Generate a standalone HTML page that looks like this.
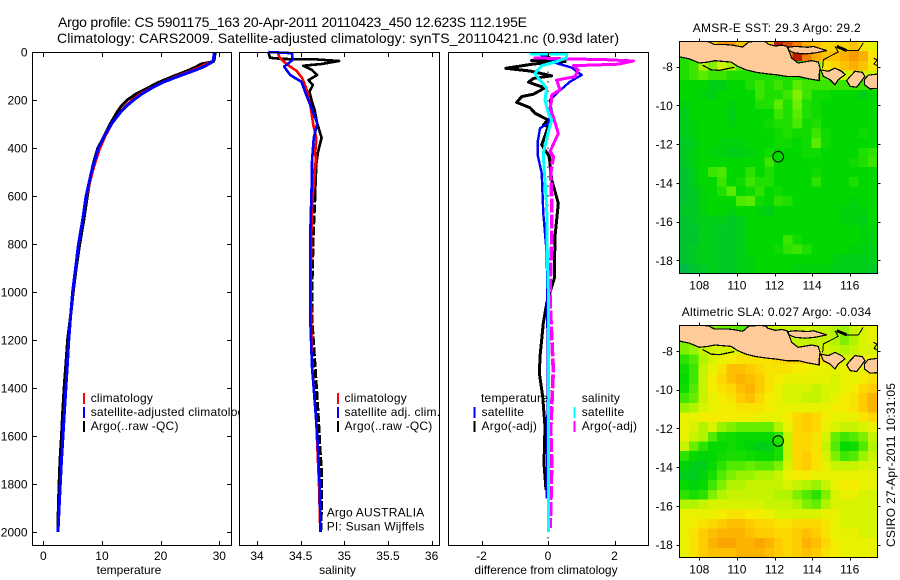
<!DOCTYPE html>
<html lang="en">
<head>
<meta charset="utf-8">
<title>Argo profile chart</title>
<style>
html,body{margin:0;padding:0;background:#fff;}
svg{display:block;font-family:"Liberation Sans",sans-serif;font-size:12px;fill:#000;}
.lg{letter-spacing:.22px;}
</style>
</head>
<body>
<svg id="chart" xmlns="http://www.w3.org/2000/svg" width="900" height="580" viewBox="0 0 900 580">
<defs>
<clipPath id="clip-sst"><rect x="679.5" y="41.5" width="198" height="232"/></clipPath>
<clipPath id="clip-sla"><rect x="679.5" y="325.5" width="198" height="232"/></clipPath>
</defs>
<rect width="900" height="580" fill="#fff"/>
<text x="58" y="27" font-size="14" textLength="469" lengthAdjust="spacing">Argo profile: CS 5901175_163 20-Apr-2011 20110423_450 12.623S 112.195E</text>
<text x="57" y="43" font-size="14" textLength="562" lengthAdjust="spacing">Climatology: CARS2009. Satellite-adjusted climatology: synTS_20110421.nc (0.93d later)</text>
<g id="p1"></g>
<g id="p2"></g>
<g id="p3"></g>
<g id="m1"></g>
<g id="m2"></g>
<text x="692.7" y="32" textLength="168" lengthAdjust="spacing">AMSR-E SST: 29.3 Argo: 29.2</text>
<text x="681.7" y="316" textLength="189.5" lengthAdjust="spacing">Altimetric SLA: 0.027 Argo: -0.034</text>
<text transform="translate(895,547) rotate(-90)" textLength="164" lengthAdjust="spacing">CSIRO 27-Apr-2011 10:31:05</text>
</svg>
<script>
/* ---------- shared depth axis ---------- */
const depthTicks = [0,200,400,600,800,1000,1200,1400,1600,1800,2000];

/* ---------- temperature panel data ---------- */
const tempTicks = [0,10,20,30];
const tempDepthLevels = [0,10,20,30,40,50,60,75,100,125,150,175,200,225,250,300,350,400,450,500,600,700,800,900,1000,1100,1200,1300,1400,1500,1600,1700,1800,1900,2000];
const tempArgo = [29.3,29.25,29.2,29.15,29.0,26.9,26.2,24.9,22.3,19.8,17.8,15.8,14.3,13.3,12.6,11.4,10.4,9.3,8.7,8.2,7.5,6.9,6.2,5.6,5.1,4.65,4.15,3.85,3.55,3.3,3.1,2.85,2.7,2.55,2.5];
const tempClim = [29.1,29.1,29.05,29.0,28.8,27.7,26.9,25.5,22.8,20.3,18.3,16.5,15.1,14.0,13.1,11.7,10.6,9.7,9.0,8.4,7.4,6.7,6.0,5.5,5.0,4.65,4.35,4.1,3.85,3.6,3.35,3.1,2.9,2.7,2.5];
const tempSat = [29.1,29.1,29.05,29.0,28.9,28.2,27.5,26.0,23.2,20.5,18.5,16.8,15.4,14.2,13.2,11.6,10.4,9.4,8.8,8.2,7.3,6.7,6.0,5.5,5.0,4.65,4.35,4.1,3.85,3.6,3.35,3.1,2.9,2.7,2.5];

/* ---------- salinity panel data ---------- */
const salTicks = [34,34.5,35,35.5,36];
const salTickLabels = ['34','34.5','35','35.5','36'];
const salArgoDepth = [0,24,29,31,37.5,50,57,75,96,117,138,165,207,241,297,357,415,464,589,755,978,1117,1311,1505,1645,1755,1880,2000];
const salArgo = [34.13,34.15,34.30,34.68,34.94,34.74,34.53,34.63,34.69,34.59,34.64,34.60,34.63,34.66,34.69,34.74,34.70,34.68,34.665,34.645,34.63,34.63,34.665,34.70,34.72,34.74,34.74,34.73];
const salClimDepth = [5,24,51,79,110,158,221,304,360,422,443,645,800,1000,1300,1550,1680,1800,2000];
const salClim = [34.24,34.26,34.34,34.455,34.52,34.57,34.61,34.645,34.68,34.665,34.675,34.63,34.62,34.615,34.63,34.68,34.695,34.71,34.725];
const salSatDepth = [0,5,33,61,96,124,165,221,297,360,457,505,755,978,1117,1311,1547,1658,1825,2000];
const salSat = [34.13,34.40,34.41,34.31,34.38,34.51,34.55,34.61,34.69,34.65,34.63,34.63,34.61,34.61,34.61,34.63,34.68,34.70,34.72,34.725];

/* ---------- difference panel data ---------- */
const diffTicks = [-2,0,2];
const diffTempArgoDepth = [10,29,36,40,50,68,79,99,110,126,149,176,186,210,232,255,283,304,311,387,436,533,630,770,943,1047,1130,1270,1339,1436,1561,1714,1825];
const diffTempArgo = [-0.14,0.11,-0.49,0.51,-0.44,-1.27,-0.54,0.11,-0.44,-0.59,-0.09,-0.44,-0.79,-0.94,-0.54,-0.39,0,-0.14,0.01,-0.19,0.04,0.11,0.31,0.21,0.19,-0.04,-0.14,-0.24,-0.26,-0.16,-0.09,-0.12,-0.06];
const diffTempSatDepth = [10,20,33,47,65,96,124,172,200,249,297,318,374,429,505,672,839,985,1400,1860];
const diffTempSat = [-0.24,-0.09,0.11,0.26,0.71,1.01,0.66,0.26,0.06,0.11,0.01,-0.24,-0.31,-0.31,-0.19,-0.14,-0.04,-0.02,-0.01,-0.04];
const diffSalSatDepth = [8,8,24,40,57,89,117,151,200,255,283,332,422,478,645,839,992,1500,2000];
const diffSalSat = [-0.54,0.56,0.56,0.26,-0.19,-0.39,-0.24,-0.04,-0.09,0.01,0.11,0.01,-0.14,-0.12,-0.04,-0.02,0.01,0.02,0.01];
const diffSalArgoDepth = [24,30,30.5,37.5,51,57,75,103,117,158,179,200,235,270,339,415,436,505,617,783,985,1033,1186,1325,1478,1575,1714,1908,1983];
const diffSalArgo = [-0.44,0.76,1.51,2.57,2.11,0.76,0.91,0.81,0.26,0.36,0.11,0.11,0.06,0.16,0.31,0.06,0.16,0.08,0.11,0.11,0.06,0.06,0.11,0.16,0.11,0.08,0.11,0.08,0.06];

/* ---------- map data (0.5 degree cells, north to south) ---------- */
const lonTicks = [108,110,112,114,116];
const latTicks = [-8,-10,-12,-14,-16,-18];
const argoLon = 112.195;
const argoLat = -12.623;
const sstRow00 = [29.3,29.3,29.5,30.2,30.4,30.4,30.2,30.1,30.0,30.1,30.9,30.7,30.5,30.3,30.2,30.1,30.1,30.1,30.2,30.0,29.9];
const sstRow01 = [29.3,29.3,29.5,30.0,30.0,30.0,30.0,30.0,30.0,30.0,30.3,30.4,30.9,30.5,30.3,30.2,30.2,30.3,30.4,30.3,30.0];
const sstRow02 = [29.3,29.4,29.7,29.6,29.8,29.7,29.5,29.3,29.3,29.3,29.3,29.3,29.3,29.3,29.6,30.0,30.1,30.2,30.3,30.2,30.0];
const sstRow03 = [29.3,29.4,29.5,29.4,29.4,29.3,29.3,29.3,29.3,29.3,29.3,29.3,29.3,29.3,29.5,29.5,29.7,29.8,29.9,29.85,29.8];
const sstRow04 = [29.2,29.2,29.2,29.1,29.1,29.2,29.2,29.3,29.4,29.3,29.4,29.3,29.5,29.4,29.4,29.4,29.4,29.4,29.4,29.4,29.4];
const sstRow05 = [29.2,29.2,29.15,29.1,29.2,29.2,29.2,29.2,29.4,29.3,29.3,29.4,29.6,29.4,29.25,29.25,29.2,29.2,29.2,29.1,29.2];
const sstRow06 = [29.15,29.2,29.2,29.2,29.2,29.15,29.2,29.2,29.3,29.3,29.5,29.3,29.55,29.3,29.25,29.2,29.2,29.2,29.2,29.2,29.2];
const sstRow07 = [29.1,29.2,29.2,29.2,29.2,29.1,29.2,29.2,29.2,29.2,29.4,29.3,29.5,29.3,29.25,29.2,29.2,29.2,29.2,29.2,29.2];
const sstRow08 = [29.1,29.15,29.2,29.2,29.2,29.15,29.2,29.2,29.2,29.25,29.3,29.3,29.45,29.25,29.3,29.2,29.2,29.2,29.2,29.2,29.2];
const sstRow09 = [29.1,29.15,29.2,29.2,29.2,29.2,29.2,29.2,29.2,29.2,29.25,29.3,29.25,29.25,29.4,29.25,29.2,29.2,29.2,29.25,29.2];
const sstRow10 = [29.05,29.1,29.2,29.2,29.15,29.15,29.15,29.2,29.2,29.2,29.25,29.25,29.2,29.25,29.5,29.25,29.2,29.2,29.2,29.2,29.2];
const sstRow11 = [29.05,29.15,29.2,29.15,29.15,29.1,29.1,29.15,29.2,29.25,29.2,29.2,29.2,29.25,29.25,29.2,29.2,29.2,29.2,29.3,29.35];
const sstRow12 = [29.05,29.15,29.2,29.2,29.2,29.2,29.2,29.2,29.2,29.4,29.2,29.2,29.2,29.2,29.2,29.2,29.2,29.2,29.25,29.3,29.4];
const sstRow13 = [29.0,29.1,29.2,29.4,29.45,29.2,29.2,29.35,29.2,29.3,29.2,29.2,29.2,29.2,29.25,29.2,29.2,29.2,29.2,29.2,29.2];
const sstRow14 = [29.0,29.1,29.2,29.2,29.4,29.2,29.25,29.4,29.3,29.3,29.2,29.2,29.2,29.2,29.35,29.2,29.2,29.2,29.3,29.2,29.2];
const sstRow15 = [29.0,29.05,29.15,29.2,29.3,29.5,29.2,29.25,29.35,29.2,29.25,29.2,29.2,29.2,29.2,29.2,29.2,29.2,29.2,29.2,29.2];
const sstRow16 = [29.0,29.05,29.15,29.2,29.2,29.2,29.45,29.5,29.25,29.2,29.35,29.3,29.2,29.2,29.2,29.2,29.2,29.2,29.15,29.2,29.2];
const sstRow17 = [29.05,29.05,29.15,29.2,29.2,29.15,29.2,29.2,29.15,29.1,29.2,29.2,29.2,29.2,29.2,29.2,29.2,29.15,29.15,29.15,29.2];
const sstRow18 = [29.0,29.05,29.1,29.1,29.1,29.05,29.1,29.2,29.2,29.2,29.2,29.2,29.2,29.2,29.2,29.2,29.2,29.15,29.15,29.1,29.2];
const sstRow19 = [29.0,29.0,29.1,29.1,29.05,29.05,29.1,29.2,29.2,29.2,29.2,29.2,29.2,29.2,29.2,29.2,29.2,29.2,29.2,29.15,29.15];
const sstRow20 = [29.0,29.0,29.1,29.1,29.05,29.05,29.1,29.2,29.2,29.2,29.2,29.4,29.25,29.2,29.2,29.2,29.2,29.2,29.2,29.15,29.15];
const sstRow21 = [29.0,29.05,29.1,29.1,29.05,29.05,29.1,29.2,29.2,29.2,29.25,29.35,29.4,29.3,29.2,29.2,29.2,29.2,29.15,29.15,29.1];
const sstRow22 = [29.0,29.05,29.1,29.1,29.05,29.05,29.1,29.15,29.2,29.2,29.2,29.2,29.2,29.2,29.2,29.2,29.15,29.1,29.1,29.1,29.1];
const sstRow23 = [28.9,29.0,29.05,29.1,29.05,29.05,29.1,29.15,29.2,29.2,29.2,29.2,29.15,29.15,29.15,29.15,29.1,29.1,29.1,29.1,29.05];
const sstGrid = [sstRow00,sstRow01,sstRow02,sstRow03,sstRow04,sstRow05,sstRow06,sstRow07,sstRow08,sstRow09,sstRow10,sstRow11,sstRow12,sstRow13,sstRow14,sstRow15,sstRow16,sstRow17,sstRow18,sstRow19,sstRow20,sstRow21,sstRow22,sstRow23];

const slaRow00 = [0.05,0.05,0.05,0.05,0.04,0.04,0.03,0.03,0.08,0.08,0.08,0.08,0.08,0.09,0.08,0.08,0.07,0.06,0.08,0.09,0.10];
const slaRow01 = [0.05,0.05,0.05,0.05,0.05,0.05,0.05,0.05,0.08,0.08,0.08,0.08,0.08,0.08,0.08,0.08,0.07,0.05,0.07,0.09,0.10];
const slaRow02 = [0.05,0.06,0.08,0.09,0.09,0.09,0.09,0.10,0.10,0.10,0.10,0.10,0.10,0.10,0.09,0.09,0.08,0.07,0.08,0.09,0.09];
const slaRow03 = [0.01,0.03,0.07,0.09,0.10,0.11,0.12,0.12,0.12,0.12,0.13,0.13,0.13,0.13,0.12,0.12,0.10,0.09,0.09,0.10,0.10];
const slaRow04 = [-0.005,0.02,0.08,0.10,0.12,0.15,0.15,0.14,0.13,0.12,0.12,0.12,0.11,0.11,0.10,0.10,0.10,0.10,0.10,0.10,0.11];
const slaRow05 = [-0.01,0.02,0.08,0.11,0.13,0.15,0.16,0.15,0.14,0.12,0.11,0.10,0.10,0.10,0.10,0.10,0.09,0.10,0.10,0.11,0.12];
const slaRow06 = [-0.005,0.03,0.08,0.11,0.12,0.13,0.15,0.16,0.14,0.12,0.10,0.09,0.09,0.09,0.08,0.09,0.09,0.10,0.11,0.13,0.14];
const slaRow07 = [0.02,0.04,0.08,0.10,0.11,0.12,0.14,0.15,0.13,0.11,0.10,0.09,0.09,0.08,0.08,0.09,0.10,0.11,0.12,0.14,0.16];
const slaRow08 = [0.06,0.07,0.09,0.10,0.11,0.11,0.12,0.12,0.12,0.11,0.10,0.10,0.10,0.10,0.10,0.10,0.11,0.11,0.12,0.14,0.16];
const slaRow09 = [0.10,0.10,0.11,0.11,0.11,0.11,0.11,0.11,0.10,0.10,0.10,0.11,0.13,0.14,0.13,0.11,0.10,0.10,0.10,0.12,0.13];
const slaRow10 = [0.10,0.09,0.07,0.09,0.06,0.05,0.04,0.04,0.04,0.04,0.07,0.10,0.13,0.14,0.13,0.10,0.09,0.08,0.08,0.09,0.10];
const slaRow11 = [0.10,0.08,0.07,0.03,0.0,-0.005,-0.01,-0.01,-0.01,-0.01,0.01,0.08,0.13,0.13,0.12,0.09,0.04,0.02,0.03,0.05,0.08];
const slaRow12 = [0.08,0.04,0.01,-0.01,-0.01,-0.005,-0.01,-0.02,-0.03,-0.03,0.0,0.08,0.13,0.13,0.12,0.08,0.03,-0.01,-0.005,0.03,0.07];
const slaRow13 = [0.01,-0.01,-0.02,-0.015,-0.005,0.0,0.0,-0.005,-0.01,-0.01,0.0,0.08,0.13,0.14,0.12,0.09,0.05,0.02,0.03,0.06,0.08];
const slaRow14 = [-0.02,-0.03,-0.03,-0.01,0.01,0.03,0.03,0.04,0.03,0.03,0.05,0.09,0.13,0.14,0.12,0.10,0.08,0.08,0.08,0.09,0.09];
const slaRow15 = [-0.03,-0.035,-0.02,0.0,0.03,0.05,0.06,0.06,0.07,0.07,0.08,0.10,0.11,0.11,0.10,0.10,0.10,0.10,0.10,0.10,0.10];
const slaRow16 = [-0.01,-0.02,-0.01,0.02,0.05,0.07,0.07,0.08,0.08,0.08,0.08,0.09,0.08,0.07,0.06,0.08,0.10,0.11,0.11,0.10,0.10];
const slaRow17 = [0.01,0.0,0.01,0.05,0.07,0.08,0.08,0.08,0.08,0.08,0.07,0.07,0.05,0.03,0.01,0.05,0.09,0.10,0.10,0.09,0.09];
const slaRow18 = [0.07,0.07,0.08,0.09,0.09,0.09,0.09,0.09,0.09,0.08,0.08,0.08,0.07,0.05,0.04,0.07,0.09,0.09,0.09,0.09,0.09];
const slaRow19 = [0.10,0.10,0.10,0.10,0.11,0.12,0.12,0.11,0.11,0.10,0.09,0.09,0.09,0.09,0.09,0.10,0.10,0.09,0.09,0.09,0.09];
const slaRow20 = [0.10,0.11,0.12,0.13,0.14,0.15,0.15,0.14,0.13,0.13,0.12,0.12,0.13,0.13,0.13,0.12,0.10,0.09,0.09,0.09,0.09];
const slaRow21 = [0.10,0.12,0.14,0.15,0.16,0.16,0.16,0.15,0.14,0.14,0.13,0.13,0.14,0.15,0.14,0.12,0.10,0.10,0.10,0.09,0.09];
const slaRow22 = [0.10,0.12,0.14,0.16,0.17,0.17,0.16,0.16,0.17,0.16,0.14,0.13,0.14,0.16,0.15,0.13,0.11,0.10,0.10,0.10,0.10];
const slaRow23 = [0.10,0.12,0.14,0.15,0.15,0.15,0.16,0.16,0.16,0.15,0.14,0.13,0.14,0.15,0.14,0.12,0.11,0.10,0.10,0.10,0.10];
const slaGrid = [slaRow00,slaRow01,slaRow02,slaRow03,slaRow04,slaRow05,slaRow06,slaRow07,slaRow08,slaRow09,slaRow10,slaRow11,slaRow12,slaRow13,slaRow14,slaRow15,slaRow16,slaRow17,slaRow18,slaRow19,slaRow20,slaRow21,slaRow22,slaRow23];

/* ---------- coastline (lon, lat) ---------- */
const javaLon = [106.5,108.52,108.80,109.42,109.78,110.31,110.63,111.23,111.55,111.65,112.03,112.40,112.66,112.82,112.91,113.25,113.98,114.33,114.42,114.38,114.38,113.80,113.27,112.65,112.03,111.72,111.02,110.48,110.04,109.69,108.84,108.45,108.0,107.47,106.5];
const javaLat = [-6.4,-6.72,-6.86,-6.86,-6.89,-6.98,-6.72,-6.67,-6.72,-6.83,-6.93,-6.89,-6.95,-7.29,-7.55,-7.81,-7.69,-7.76,-8.07,-8.44,-8.72,-8.62,-8.50,-8.50,-8.41,-8.38,-8.29,-8.16,-7.98,-7.76,-7.69,-7.76,-7.81,-7.59,-7.40];
const maduraLon = [112.73,113.09,113.80,114.06,114.78,114.15,113.62,113.09,112.77];
const maduraLat = [-7.0,-6.95,-7.0,-6.95,-7.17,-7.29,-7.34,-7.29,-7.17];
const baliLon = [114.46,114.86,115.22,115.57,115.75,115.39,115.22,114.95,114.60];
const baliLat = [-8.16,-8.24,-8.07,-8.24,-8.41,-8.67,-8.93,-8.67,-8.50];
const lombokLon = [115.84,116.02,116.28,116.67,116.81,116.55,116.37,116.02];
const lombokLat = [-8.72,-8.50,-8.24,-8.29,-8.50,-8.84,-9.06,-9.01];
const sumbawaLon = [116.78,116.99,117.44,117.8,117.8,117.08,116.78];
const sumbawaLat = [-8.67,-8.44,-8.38,-8.3,-9.10,-9.14,-8.93];
const eastLineLon = [114.56,114.60,115.39,115.22];
const eastLineLat = [-8.07,-7.64,-7.24,-6.95];
const kangeanLon = [115.31,115.84];
const kangeanLat = [-6.95,-7.17];
const northLineLon = [115.84,116.46,116.72];
const northLineLat = [-7.17,-7.17,-6.78];
const southLoopLon = [108.18,108.62,109.06,109.86];
const southLoopLat = [-7.93,-8.16,-8.19,-8.03];
const squiggleLon = [117.26,117.45,117.3,117.45];
const squiggleLat = [-7.55,-7.65,-7.86,-7.95];

/* ---------- axis functions ---------- */
const depthY = d => 52 + d * 0.24;
const tempX = v => 43.3 + v * 5.867;
const salX = v => 257 + (v - 34) * 87.3;
const diffX = v => 548 + v * 33.25;
const lonX = lon => 699.3 + (lon - 108) * 18.8;
const latYTop = lat => 66.7 + (-8 - lat) * 19.36;
const latYBottom = lat => 351 + (-8 - lat) * 19.36;

const SVGNS = 'http://www.w3.org/2000/svg';
function mk(tag, attrs, parent) {
  const el = document.createElementNS(SVGNS, tag);
  for (const k in attrs) el.setAttribute(k, attrs[k]);
  parent.appendChild(el);
  return el;
}
function label(parent, x, y, str, anchor, name) {
  const el = mk('text', {x: x, y: y, 'text-anchor': anchor}, parent);
  el.textContent = str;
  
  
  return el;
}
function tick(parent, x1, y1, x2, y2, name) {
  const el = mk('line', {x1: x1, y1: y1, x2: x2, y2: y2, stroke: '#000', 'stroke-width': 1, 'shape-rendering': 'crispEdges'}, parent);
  
  
}
/* draws the part of a profile between two depths, solid or dashed */
function series(parent, depths, values, xFn, color, width, name, dash, fromDepth, toDepth) {
  const lo = fromDepth === undefined ? -Infinity : fromDepth;
  const hi = toDepth === undefined ? Infinity : toDepth;
  const pts = [];
  depths.forEach((d, i) => {
    if (d >= lo && d <= hi) pts.push(xFn(values[i]).toFixed(1) + ',' + depthY(d).toFixed(1));
  });
  const el = mk('polyline', {points: pts.join(' '), fill: 'none', stroke: color, 'stroke-width': width, 'stroke-linejoin': 'round', 'shape-rendering': 'crispEdges'}, parent);
  if (dash) el.setAttribute('stroke-dasharray', dash);
  
  
}
function panelBack(parent, x0, x1) {
  const el = mk('rect', {x: x0, y: 52.5, width: x1 - x0, height: 493, fill: '#fff'}, parent);
  
  
}
function panelFrame(parent, x0, x1) {
  const el = mk('rect', {x: x0, y: 52.5, width: x1 - x0, height: 493, fill: 'none', stroke: '#000', 'stroke-width': 1.2, 'shape-rendering': 'crispEdges'}, parent);
  
  
}
function xAxis(parent, ticks, labels, xFn) {
  ticks.forEach((v, i) => {
    const x = Math.round(xFn(v)) + 0.5;
    tick(parent, x, 52.5, x, 57, 'x-tick-top');
    tick(parent, x, 545.5, x, 541, 'x-tick-bottom');
    label(parent, xFn(v), 560, labels[i], 'middle', 'x-tick-label');
  });
}
function legendEntry(parent, swatchX, textX, baseY, color, str, name) {
  if (color) {
    const s = mk('rect', {x: swatchX, y: baseY - 9, width: 2, height: 11, fill: color}, parent);
    
    
  }
  const t = label(parent, textX, baseY, str, 'start', name);
  t.setAttribute('class', 'lg');
}

/* ---------- temperature panel ---------- */
const p1 = document.getElementById('p1');
panelBack(p1, 32.5, 231.5);
series(p1, tempDepthLevels, tempArgo, tempX, '#000', 3, 'temperature-argo-line');
series(p1, tempDepthLevels, tempClim, tempX, '#f00', 2.4, 'temperature-climatology-line');
series(p1, tempDepthLevels, tempSat, tempX, '#00f', 3, 'temperature-satellite-line');
legendEntry(p1, 83, 90.7, 402, '#f00', 'climatology', 'temperature-legend-climatology');
legendEntry(p1, 83, 90.7, 416, '#00f', 'satellite-adjusted climatology', 'temperature-legend-satellite');
legendEntry(p1, 83, 90.7, 430, '#000', 'Argo(..raw -QC)', 'temperature-legend-argo');
panelFrame(p1, 32.5, 231.5);
xAxis(p1, tempTicks, tempTicks.map(String), tempX);
depthTicks.forEach(d => {
  const y = Math.round(depthY(d)) + 0.5;
  tick(p1, 32.5, y, 37, y, 'depth-tick-left');
  tick(p1, 231.5, y, 227, y, 'depth-tick-right');
  label(p1, 27.5, depthY(d) + 4.5, String(d), 'end', 'depth-tick-label');
});
label(p1, 129, 574, 'temperature', 'middle', 'temperature-axis-title');

/* ---------- salinity panel ---------- */
const p2 = document.getElementById('p2');
panelBack(p2, 239.5, 439.5);
series(p2, salArgoDepth, salArgo, salX, '#000', 2.6, 'salinity-argo-line-upper', null, 0, 600);
series(p2, salArgoDepth, salArgo, salX, '#000', 3, 'salinity-argo-line-deep', '9 2', 589);
series(p2, salClimDepth, salClim, salX, '#f00', 2.6, 'salinity-climatology-line');
series(p2, salSatDepth, salSat, salX, '#00f', 2.6, 'salinity-satellite-line');
legendEntry(p2, 337, 344.5, 402, '#f00', 'climatology', 'salinity-legend-climatology');
legendEntry(p2, 337, 344.5, 416, '#00f', 'satellite adj. clim.', 'salinity-legend-satellite');
legendEntry(p2, 337, 344.5, 430, '#000', 'Argo(..raw -QC)', 'salinity-legend-argo');
legendEntry(p2, 0, 326.7, 516.5, null, 'Argo AUSTRALIA', 'argo-country-note');
legendEntry(p2, 0, 326.7, 530.5, null, 'PI: Susan Wijffels', 'principal-investigator-note');
panelFrame(p2, 239.5, 439.5);
xAxis(p2, salTicks, salTickLabels, salX);
label(p2, 337.5, 574, 'salinity', 'middle', 'salinity-axis-title');

/* ---------- difference panel ---------- */
const p3 = document.getElementById('p3');
panelBack(p3, 448.5, 648.5);
const zero = mk('line', {x1: diffX(0), y1: 52.5, x2: diffX(0), y2: 545.5, stroke: '#000', 'stroke-width': 1, 'stroke-dasharray': '1.5 8'}, p3);


series(p3, diffTempArgoDepth, diffTempArgo, diffX, '#000', 3, 'difference-temperature-argo-line');
series(p3, diffTempSatDepth, diffTempSat, diffX, '#00f', 2.4, 'difference-temperature-satellite-line');
series(p3, diffSalArgoDepth, diffSalArgo, diffX, '#f0f', 3, 'difference-salinity-argo-line-upper', null, 0, 436);
series(p3, diffSalArgoDepth, diffSalArgo, diffX, '#f0f', 3.6, 'difference-salinity-argo-line-deep', '14 2', 415);
series(p3, diffSalSatDepth, diffSalSat, diffX, '#0ff', 3, 'difference-salinity-satellite-line');
legendEntry(p3, 0, 481, 402, null, 'temperature', 'difference-legend-temperature-heading');
legendEntry(p3, 473.5, 481.5, 416, '#00f', 'satellite', 'difference-legend-temperature-satellite');
legendEntry(p3, 473.5, 481.5, 430, '#000', 'Argo(-adj)', 'difference-legend-temperature-argo');
legendEntry(p3, 0, 581.7, 402, null, 'salinity', 'difference-legend-salinity-heading');
legendEntry(p3, 573.5, 581.7, 416, '#0ff', 'satellite', 'difference-legend-salinity-satellite');
legendEntry(p3, 573.5, 581.7, 430, '#f0f', 'Argo(-adj)', 'difference-legend-salinity-argo');
panelFrame(p3, 448.5, 648.5);
xAxis(p3, diffTicks, diffTicks.map(String), diffX);
label(p3, 546, 574, 'difference from climatology', 'middle', 'difference-axis-title');

/* ---------- maps ---------- */
const mapColors = [
  [0.00, 0, 160, 130],
  [0.16, 0, 188, 70],
  [0.28, 0, 216, 0],
  [0.40, 90, 236, 0],
  [0.50, 190, 245, 0],
  [0.58, 244, 240, 0],
  [0.66, 255, 205, 0],
  [0.75, 250, 160, 0],
  [0.86, 230, 90, 0],
  [1.00, 170, 0, 0]
];
function mapColor(t) {
  t = Math.max(0, Math.min(1, t));
  for (let i = 1; i < mapColors.length; i++) {
    if (t <= mapColors[i][0]) {
      const a = mapColors[i - 1], b = mapColors[i];
      const f = (t - a[0]) / (b[0] - a[0]);
      return 'rgb(' + [1, 2, 3].map(k => Math.round(a[k] + (b[k] - a[k]) * f)).join(',') + ')';
    }
  }
  return 'rgb(170,0,0)';
}
function polyPoints(lons, lats, yFn) {
  return lons.map((lon, i) => lonX(lon).toFixed(1) + ',' + yFn(lats[i]).toFixed(1)).join(' ');
}
function land(g, lons, lats, yFn, name) {
  const el = mk('polygon', {points: polyPoints(lons, lats, yFn), fill: '#ffcc99', stroke: '#000', 'stroke-width': 1.2, 'shape-rendering': 'crispEdges'}, g);
  
  
}
function coastLine(g, lons, lats, yFn, width, name) {
  const el = mk('polyline', {points: polyPoints(lons, lats, yFn), fill: 'none', stroke: '#000', 'stroke-width': width, 'shape-rendering': 'crispEdges'}, g);
  
  
}
function drawMap(id, clipId, grid, vmin, vmax, yFn, top, bottom) {
  const root = document.getElementById(id);
  const g = mk('g', {'clip-path': 'url(#' + clipId + ')'}, root);
  
  
  const x0 = 679.5, w = 198 / grid[0].length, h = (bottom - top) / grid.length;
  grid.forEach((row, j) => {
    row.forEach((v, i) => {
      const c = mk('rect', {x: (x0 + i * w).toFixed(2), y: (top + j * h).toFixed(2), width: (w + 0.4).toFixed(2), height: (h + 0.4).toFixed(2), fill: mapColor((v - vmin) / (vmax - vmin)), 'shape-rendering': 'crispEdges'}, g);
      
      
    });
  });
  land(g, javaLon, javaLat, yFn, 'java-land');
  land(g, maduraLon, maduraLat, yFn, 'madura-land');
  land(g, baliLon, baliLat, yFn, 'bali-land');
  land(g, lombokLon, lombokLat, yFn, 'lombok-land');
  land(g, sumbawaLon, sumbawaLat, yFn, 'sumbawa-land');
  coastLine(g, eastLineLon, eastLineLat, yFn, 1, 'coast-line-east');
  coastLine(g, kangeanLon, kangeanLat, yFn, 3, 'coast-island-north');
  coastLine(g, northLineLon, northLineLat, yFn, 1, 'coast-line-north');
  coastLine(g, southLoopLon, southLoopLat, yFn, 1.2, 'coast-line-south');
  coastLine(g, squiggleLon, squiggleLat, yFn, 1, 'coast-island-small');
  const mk1 = mk('circle', {cx: lonX(argoLon), cy: yFn(argoLat) + 0.5, r: 5.3, fill: 'none', stroke: '#000', 'stroke-width': 1}, g);
  
  
  const fr = mk('rect', {x: 679.5, y: top, width: 198, height: bottom - top, fill: 'none', stroke: '#000', 'stroke-width': 1.2, 'shape-rendering': 'crispEdges'}, root);
  
  
  lonTicks.forEach(lon => {
    const x = Math.round(lonX(lon)) + 0.5;
    tick(root, x, top, x, top - 3, 'lon-tick-top');
    tick(root, x, bottom, x, bottom + 3, 'lon-tick-bottom');
    label(root, lonX(lon), bottom + 16, String(lon), 'middle', 'lon-tick-label');
  });
  latTicks.forEach(lat => {
    const y = Math.round(yFn(lat)) + 0.5;
    tick(root, 679.5, y, 676.5, y, 'lat-tick-left');
    tick(root, 877.5, y, 880.5, y, 'lat-tick-right');
    label(root, 672.8, yFn(lat) + 4.5, String(lat), 'end', 'lat-tick-label');
  });
}
drawMap('m1', 'clip-sst', sstGrid, 28.5, 31.0, latYTop, 41.5, 273.5);
drawMap('m2', 'clip-sla', slaGrid, -0.125, 0.275, latYBottom, 325.5, 557.5);
</script>
</body>
</html>
